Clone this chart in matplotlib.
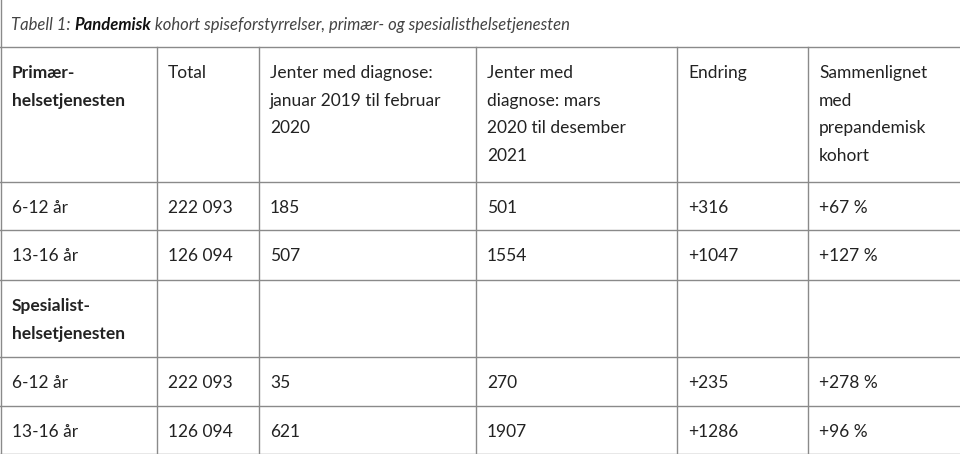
import matplotlib.pyplot as plt

title_prefix = "Tabell 1: "
title_bold = "Pandemisk"
title_rest = " kohort spiseforstyrrelser, primær- og spesialisthelsetjenesten"

header = ["Primær-\nhelsetjenesten", "Total", "Jenter med diagnose:\njanuar 2019 til februar\n2020",
          "Jenter med\ndiagnose: mars\n2020 til desember\n2021", "Endring",
          "Sammenlignet\nmed\nprepandemisk\nkohort"]
rows = [
    ["6-12 år", "222 093", "185", "501", "+316", "+67 %"],
    ["13-16 år", "126 094", "507", "1554", "+1047", "+127 %"],
    ["Spesialist-\nhelsetjenesten", "", "", "", "", ""],
    ["6-12 år", "222 093", "35", "270", "+235", "+278 %"],
    ["13-16 år", "126 094", "621", "1907", "+1286", "+96 %"],
]
bold_rows = [0, 3]  # header and section row, first column bold

col_x = [1, 157, 259, 476, 677, 808, 960]
row_y = [47, 182, 230, 280, 357, 406, 454]

fig = plt.figure(figsize=(9.6, 4.54), dpi=100)
ax = fig.add_axes([0, 0, 1, 1])
ax.set_xlim(0, 960)
ax.set_ylim(454, 0)
ax.axis("off")

lc = "#8a8a8a"
ax.plot([1, 1], [0, 454], color=lc, lw=1)
ax.plot([0, 960], [47, 47], color=lc, lw=1)
for y in row_y[1:]:
    ax.plot([0, 960], [y, y], color=lc, lw=1)
for x in col_x[1:-1]:
    ax.plot([x, x], [47, 454], color=lc, lw=1)

fs = 12.5
tc = "#222222"
t = ax.text(11, 25, title_prefix, fontsize=12, family="Lato", style="italic", color="#444444", va="center")
t2 = ax.annotate(title_bold, xycoords=t, xy=(1, 0.5), va="center", fontsize=12, family="Lato",
                 style="italic", weight="bold", color="#111111")
ax.annotate(title_rest, xycoords=t2, xy=(1, 0.5), va="center", fontsize=12, family="Lato",
            style="italic", color="#444444")

all_rows = [header] + rows
for i, row in enumerate(all_rows):
    for j, cell in enumerate(row):
        w = "bold" if (j == 0 and i in bold_rows) else "normal"
        ax.text(col_x[j] + 11, row_y[i] + 18, cell, fontsize=fs, family="Lato", weight=w,
                color=tc, va="top", ha="left", linespacing=1.9)

fig.savefig("out.png", dpi=100)
